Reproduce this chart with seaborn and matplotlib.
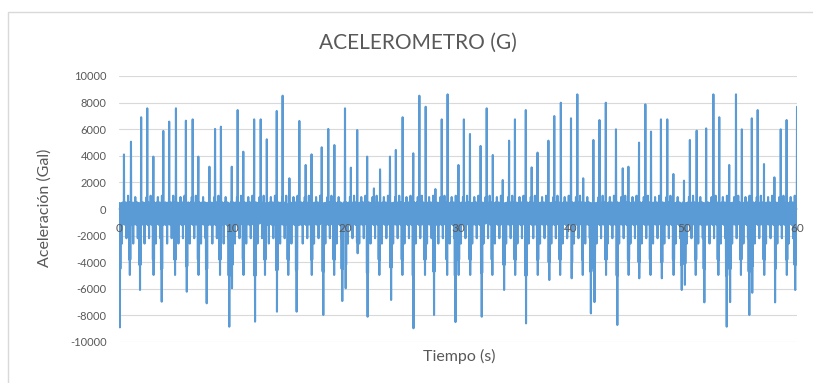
import numpy as np
import pandas as pd
import matplotlib
matplotlib.use("Agg")
import matplotlib.pyplot as plt
from matplotlib.patches import Rectangle
import seaborn as sns

# Positive acceleration peaks: time (s) and value (Gal)
pos_times = [0.44, 1.06, 1.95, 2.51, 3.04, 3.92, 4.45, 5.04, 5.93, 6.52,
             7.02, 8.00, 8.50, 9.03, 9.97, 10.50, 11.00, 11.95, 12.54, 13.07,
             13.95, 14.49, 15.07, 15.96, 16.52, 17.05, 17.94, 18.53, 19.06, 20.00,
             20.53, 21.09, 21.97, 22.57, 23.10, 23.98, 24.50, 25.10, 26.04, 26.58,
             27.14, 28.00, 28.56, 29.09, 30.03, 30.53, 31.06, 32.00, 32.54, 33.07,
             33.96, 34.52, 35.05, 35.99, 36.52, 37.05, 37.99, 38.52, 39.09, 40.00,
             40.56, 41.09, 41.98, 42.51, 43.07, 43.98, 44.58, 45.07, 46.02, 46.58,
             47.08, 47.97, 48.52, 49.06, 50.00, 50.53, 51.13, 51.95, 52.60, 53.13,
             54.01, 54.60, 55.11, 55.99, 56.52, 57.08, 57.99, 58.56, 59.09, 60.00]
pos_vals = [4100, 5060, 6900, 7570, 3940, 5870, 6570, 7570, 6640, 6740,
            3940, 3180, 6020, 6190, 3180, 7440, 4310, 6740, 6740, 5240,
            7370, 8520, 2310, 6620, 3310, 4110, 4640, 6020, 4810, 7570,
            3110, 5940, 3940, 1550, 2980, 3940, 4440, 6900, 4190, 8520,
            7690, 1500, 6740, 8620, 3310, 6740, 5640, 4740, 7570, 4060,
            2180, 5140, 6740, 7440, 3130, 4240, 5140, 6990, 7990, 6820,
            8620, 2310, 5190, 6690, 7990, 5990, 3060, 3180, 4990, 7870,
            5820, 6740, 6740, 2630, 2130, 5190, 5890, 6060, 8620, 6900,
            3310, 8620, 5990, 6820, 7440, 3380, 2380, 5990, 6690, 7690]

# Negative acceleration peaks: time (s), peak value and shoulder value (Gal)
neg_times = [0.09, 0.97, 1.86, 3.04, 3.78, 4.96, 5.99, 7.02, 7.76, 8.94,
             9.76, 9.97, 11.00, 12.03, 12.92, 13.95, 14.98, 15.72, 17.05, 18.08,
             19.05, 19.76, 20.06, 21.12, 22.00, 23.03, 24.07, 25.07, 26.04, 27.08,
             27.88, 29.05, 29.78, 30.03, 31.06, 32.10, 33.04, 34.07, 35.05, 36.02,
             37.05, 38.08, 39.03, 40.06, 41.04, 41.77, 42.07, 43.10, 44.10, 45.07,
             46.02, 47.05, 48.03, 49.06, 49.80, 50.09, 51.04, 51.80, 53.04, 53.78,
             54.07, 55.05, 55.78, 56.05, 57.10, 58.06, 59.09, 59.83]
neg_vals = [-8900, -4960, -6090, -4960, -6970, -4960, -6220, -4960, -7090, -4960,
            -8850, -5960, -4960, -8470, -4960, -7720, -4960, -7720, -4960, -7970,
            -4960, -6920, -5960, -3330, -8100, -4960, -6840, -4960, -8970, -4960,
            -7970, -4960, -8500, -4960, -4960, -8100, -4960, -6090, -4960, -8600,
            -4960, -5340, -4960, -5210, -4960, -7850, -7000, -4960, -8720, -4960,
            -5210, -4960, -5210, -4960, -6090, -5700, -4960, -7020, -4960, -8850,
            -7000, -4960, -7970, -6300, -4960, -7020, -4960, -6090]
neg_shoulders = [-4500, -3800, -4200, -3800, -4500, -3800, -4300, -3800, -4500, -3800,
                 -5000, -4200, -3800, -5000, -3800, -4600, -3800, -4600, -3800, -4700,
                 -3800, -4500, -4200, -2500, -4800, -3800, -4400, -3800, -5000, -3800,
                 -4700, -3800, -5000, -3800, -3800, -4800, -3800, -4200, -3800, -5000,
                 -3800, -4000, -3800, -4000, -3800, -4700, -4500, -3800, -5000, -3800,
                 -4000, -3800, -4000, -3800, -4200, -4100, -3800, -4500, -3800, -5000,
                 -4500, -3800, -4700, -4300, -3800, -4500, -3800, -4200]

# Background vibration over one second (50 samples per second)
ripple = [200, -900, 450, -1100, 300, -600, 500, -1200, 150, -800,
          450, -1000, 350, -2600, 400, -900, 250, -1150, 500, -700,
          300, -1050, 900, -950, 200, -800, 450, -1200, 350, -850,
          500, -1100, 250, -2200, 400, -1000, 450, -750, 300, -1150,
          1000, -900, 350, -1050, 200, -800, 500, -1200, 300, -950]

rate = 50
n = 60 * rate + 1
time = np.arange(n) / rate
accel = np.resize(np.array(ripple, dtype=float), n)

used = set()
for t, v in zip(pos_times, pos_vals):
    i = min(int(round(t * rate)), n - 1)
    accel[i] = v
    used.add(i)
for t, v, s in zip(neg_times, neg_vals, neg_shoulders):
    i = int(round(t * rate))
    if i in used:
        i += 1
    i = min(i, n - 1)
    accel[i] = v
    for j in (i - 3, i + 2):
        if 0 <= j < n and j not in used:
            accel[j] = s

df = pd.DataFrame({"Tiempo": time, "Aceleracion": accel})

sns.set_theme(style="white")
plt.rcParams["font.family"] = ["Lato", "DejaVu Sans"]

text_color = "#595959"
grid_color = "#D9D9D9"
line_color = "#5B9BD5"

fig = plt.figure(figsize=(8.13, 3.83), dpi=100)
fig.patch.set_facecolor("white")
ax = fig.add_axes([119 / 813, 1 - 342 / 383, 678 / 813, 266 / 383])
ax.set_facecolor("white")

yticks = list(range(-10000, 10001, 2000))
for yv in yticks:
    ax.axhline(yv, color=grid_color, lw=0.8, zorder=0.5)

sns.lineplot(data=df, x="Tiempo", y="Aceleracion", ax=ax, color=line_color,
             linewidth=1.5, estimator=None, zorder=2)

ax.set_xlim(0, 60)
ax.set_ylim(-10000, 10000)
ax.set_yticks(yticks)
ax.set_yticklabels([str(v) for v in yticks])
ax.set_xticks(range(0, 61, 10))
ax.set_xticklabels([str(v) for v in range(0, 61, 10)])
ax.set_axisbelow(False)

for side in ["top", "right", "left"]:
    ax.spines[side].set_visible(False)
ax.spines["bottom"].set_position(("data", 0))
ax.spines["bottom"].set_color(grid_color)
ax.spines["bottom"].set_zorder(1)

ax.tick_params(axis="y", length=0, pad=9, labelsize=8, labelcolor=text_color)
ax.tick_params(axis="x", length=0, pad=10, labelsize=8.5, labelcolor=text_color)
ax.set_xlabel("")
ax.set_ylabel("")

fig.text(418 / 813, 1 - 43 / 383, "ACELEROMETRO (G)", ha="center", va="center",
         fontsize=15, color=text_color)
fig.text(459 / 813, 1 - 356 / 383, "Tiempo (s)", ha="center", va="center",
         fontsize=11.5, color=text_color)
fig.text(45 / 813, 1 - 208 / 383, "Aceleración (Gal)", ha="center", va="center",
         rotation=90, fontsize=11.5, color=text_color)

fig.patches.append(Rectangle((8 / 813, -0.05), 1.0, 1 - 12 / 383 + 0.05,
                             transform=fig.transFigure, fill=False,
                             edgecolor=grid_color, lw=1.0))

fig.savefig("out.png", dpi=100)
